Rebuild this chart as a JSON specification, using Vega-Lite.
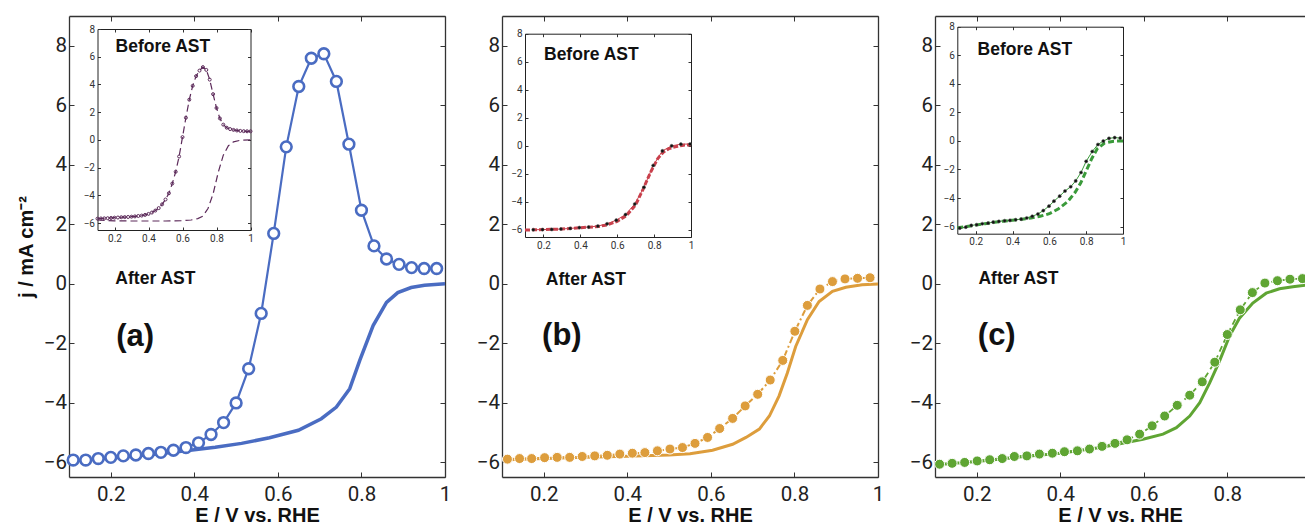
{
"$schema": "https://vega.github.io/schema/vega-lite/v6.json",
"padding": {"left": 16, "top": 15, "right": 0, "bottom": 0},
"background": "white",
"bounds": "flush",
"spacing": 57,
"config": {
  "view": {"stroke": null},
  "axis": {"grid": false, "labelFont": "Roboto", "labelColor": "#222", "domainColor": "#333", "tickColor": "#333", "titleFont": "Liberation Sans", "titleFontWeight": "bold", "titleColor": "#111", "titleFontSize": 20, "labelFlush": false, "labelOverlap": false}
},
"datasets": {
  "a_line": [{"E":0.11,"j":-5.95},{"E":0.2,"j":-5.86},{"E":0.3,"j":-5.74},{"E":0.39,"j":-5.6},{"E":0.45,"j":-5.5},{"E":0.513,"j":-5.37},{"E":0.58,"j":-5.18},{"E":0.649,"j":-4.93},{"E":0.704,"j":-4.54},{"E":0.74,"j":-4.15},{"E":0.772,"j":-3.53},{"E":0.796,"j":-2.58},{"E":0.828,"j":-1.41},{"E":0.86,"j":-0.63},{"E":0.887,"j":-0.3},{"E":0.919,"j":-0.13},{"E":0.951,"j":-0.05},{"E":1.0,"j":0.0}],
  "a_pts": [{"E":0.11,"j":-5.93},{"E":0.14,"j":-5.93},{"E":0.17,"j":-5.88},{"E":0.2,"j":-5.84},{"E":0.23,"j":-5.79},{"E":0.26,"j":-5.76},{"E":0.29,"j":-5.71},{"E":0.32,"j":-5.67},{"E":0.35,"j":-5.6},{"E":0.38,"j":-5.51},{"E":0.41,"j":-5.35},{"E":0.44,"j":-5.07},{"E":0.47,"j":-4.67},{"E":0.5,"j":-4.01},{"E":0.53,"j":-2.86},{"E":0.56,"j":-1.0},{"E":0.59,"j":1.69},{"E":0.62,"j":4.6},{"E":0.65,"j":6.63},{"E":0.68,"j":7.58},{"E":0.71,"j":7.73},{"E":0.74,"j":6.8},{"E":0.77,"j":4.69},{"E":0.8,"j":2.47},{"E":0.83,"j":1.27},{"E":0.86,"j":0.83},{"E":0.89,"j":0.65},{"E":0.92,"j":0.54},{"E":0.95,"j":0.51},{"E":0.98,"j":0.51}],
  "a_in_up": [{"E":0.1,"j":-5.68},{"E":0.12,"j":-5.67},{"E":0.14,"j":-5.66},{"E":0.16,"j":-5.65},{"E":0.18,"j":-5.63},{"E":0.2,"j":-5.61},{"E":0.22,"j":-5.6},{"E":0.24,"j":-5.58},{"E":0.26,"j":-5.57},{"E":0.28,"j":-5.56},{"E":0.3,"j":-5.54},{"E":0.32,"j":-5.52},{"E":0.34,"j":-5.49},{"E":0.36,"j":-5.46},{"E":0.38,"j":-5.41},{"E":0.4,"j":-5.34},{"E":0.42,"j":-5.24},{"E":0.44,"j":-5.1},{"E":0.46,"j":-4.92},{"E":0.48,"j":-4.65},{"E":0.5,"j":-4.3},{"E":0.52,"j":-3.85},{"E":0.54,"j":-3.15},{"E":0.56,"j":-2.3},{"E":0.58,"j":-1.2},{"E":0.6,"j":0.2},{"E":0.62,"j":1.6},{"E":0.64,"j":2.9},{"E":0.66,"j":3.9},{"E":0.68,"j":4.6},{"E":0.7,"j":5.0},{"E":0.72,"j":5.25},{"E":0.74,"j":5.05},{"E":0.76,"j":4.35},{"E":0.78,"j":3.3},{"E":0.8,"j":2.3},{"E":0.82,"j":1.55},{"E":0.84,"j":1.1},{"E":0.86,"j":0.88},{"E":0.88,"j":0.78},{"E":0.9,"j":0.72},{"E":0.92,"j":0.68},{"E":0.94,"j":0.65},{"E":0.96,"j":0.63},{"E":0.98,"j":0.62},{"E":1.0,"j":0.62}],
  "a_in_low": [{"E":0.1,"j":-5.78},{"E":0.15,"j":-5.82},{"E":0.2,"j":-5.84},{"E":0.3,"j":-5.85},{"E":0.4,"j":-5.85},{"E":0.5,"j":-5.85},{"E":0.6,"j":-5.83},{"E":0.65,"j":-5.78},{"E":0.69,"j":-5.68},{"E":0.72,"j":-5.5},{"E":0.75,"j":-4.95},{"E":0.78,"j":-3.9},{"E":0.81,"j":-2.35},{"E":0.84,"j":-1.1},{"E":0.87,"j":-0.42},{"E":0.9,"j":-0.14},{"E":0.94,"j":-0.03},{"E":1.0,"j":0.0}],
  "b_line": [{"E":0.11,"j":-5.92},{"E":0.2,"j":-5.88},{"E":0.3,"j":-5.84},{"E":0.4,"j":-5.8},{"E":0.5,"j":-5.76},{"E":0.55,"j":-5.72},{"E":0.604,"j":-5.6},{"E":0.652,"j":-5.4},{"E":0.684,"j":-5.17},{"E":0.716,"j":-4.89},{"E":0.74,"j":-4.45},{"E":0.763,"j":-3.78},{"E":0.783,"j":-3.0},{"E":0.803,"j":-2.11},{"E":0.831,"j":-1.21},{"E":0.859,"j":-0.6},{"E":0.891,"j":-0.26},{"E":0.923,"j":-0.12},{"E":0.962,"j":-0.04},{"E":1.0,"j":-0.01}],
  "b_pts": [{"E":0.113,"j":-5.9},{"E":0.142,"j":-5.88},{"E":0.171,"j":-5.88},{"E":0.202,"j":-5.85},{"E":0.232,"j":-5.84},{"E":0.262,"j":-5.84},{"E":0.292,"j":-5.81},{"E":0.322,"j":-5.79},{"E":0.352,"j":-5.77},{"E":0.382,"j":-5.73},{"E":0.412,"j":-5.7},{"E":0.442,"j":-5.68},{"E":0.472,"j":-5.62},{"E":0.502,"j":-5.56},{"E":0.532,"j":-5.51},{"E":0.562,"j":-5.37},{"E":0.592,"j":-5.17},{"E":0.621,"j":-4.87},{"E":0.652,"j":-4.53},{"E":0.682,"j":-4.11},{"E":0.712,"j":-3.72},{"E":0.742,"j":-3.24},{"E":0.772,"j":-2.58},{"E":0.801,"j":-1.6},{"E":0.831,"j":-0.73},{"E":0.861,"j":-0.18},{"E":0.891,"j":0.07},{"E":0.921,"j":0.16},{"E":0.951,"j":0.18},{"E":0.981,"j":0.2}],
  "b_in_dash": [{"E":0.1,"j":-6.0},{"E":0.2,"j":-5.97},{"E":0.3,"j":-5.93},{"E":0.4,"j":-5.84},{"E":0.5,"j":-5.75},{"E":0.55,"j":-5.62},{"E":0.6,"j":-5.38},{"E":0.65,"j":-4.98},{"E":0.7,"j":-4.2},{"E":0.74,"j":-3.1},{"E":0.78,"j":-1.9},{"E":0.82,"j":-0.9},{"E":0.85,"j":-0.45},{"E":0.88,"j":-0.2},{"E":0.92,"j":-0.05},{"E":0.96,"j":0.05},{"E":1.0,"j":0.08}],
  "b_in_pts": [{"E":0.145,"j":-5.98},{"E":0.195,"j":-5.97},{"E":0.245,"j":-5.96},{"E":0.295,"j":-5.93},{"E":0.345,"j":-5.89},{"E":0.395,"j":-5.83},{"E":0.445,"j":-5.79},{"E":0.495,"j":-5.72},{"E":0.545,"j":-5.56},{"E":0.595,"j":-5.3},{"E":0.645,"j":-4.9},{"E":0.695,"j":-4.15},{"E":0.745,"j":-2.95},{"E":0.795,"j":-1.4},{"E":0.845,"j":-0.36},{"E":0.895,"j":0.0},{"E":0.945,"j":0.12},{"E":0.995,"j":0.13}],
  "c_line": [{"E":0.11,"j":-6.08},{"E":0.2,"j":-5.98},{"E":0.3,"j":-5.83},{"E":0.4,"j":-5.7},{"E":0.5,"j":-5.5},{"E":0.558,"j":-5.34},{"E":0.598,"j":-5.23},{"E":0.646,"j":-5.06},{"E":0.678,"j":-4.84},{"E":0.71,"j":-4.45},{"E":0.734,"j":-4.0},{"E":0.758,"j":-3.33},{"E":0.781,"j":-2.61},{"E":0.805,"j":-1.77},{"E":0.829,"j":-1.16},{"E":0.861,"j":-0.65},{"E":0.893,"j":-0.32},{"E":0.925,"j":-0.17},{"E":0.957,"j":-0.1},{"E":0.987,"j":-0.05}],
  "c_pts": [{"E":0.111,"j":-6.07},{"E":0.141,"j":-6.04},{"E":0.171,"j":-6.01},{"E":0.201,"j":-5.96},{"E":0.231,"j":-5.92},{"E":0.261,"j":-5.88},{"E":0.29,"j":-5.81},{"E":0.32,"j":-5.79},{"E":0.35,"j":-5.73},{"E":0.381,"j":-5.7},{"E":0.41,"j":-5.65},{"E":0.441,"j":-5.62},{"E":0.47,"j":-5.56},{"E":0.5,"j":-5.47},{"E":0.531,"j":-5.37},{"E":0.56,"j":-5.25},{"E":0.59,"j":-5.06},{"E":0.62,"j":-4.78},{"E":0.65,"j":-4.45},{"E":0.68,"j":-4.09},{"E":0.71,"j":-3.75},{"E":0.74,"j":-3.3},{"E":0.77,"j":-2.64},{"E":0.8,"j":-1.71},{"E":0.831,"j":-0.88},{"E":0.86,"j":-0.3},{"E":0.89,"j":0.02},{"E":0.92,"j":0.1},{"E":0.95,"j":0.15},{"E":0.98,"j":0.17}],
  "c_in_dash": [{"E":0.1,"j":-6.08},{"E":0.15,"j":-6.0},{"E":0.2,"j":-5.9},{"E":0.25,"j":-5.8},{"E":0.3,"j":-5.7},{"E":0.35,"j":-5.62},{"E":0.4,"j":-5.55},{"E":0.45,"j":-5.48},{"E":0.5,"j":-5.4},{"E":0.55,"j":-5.28},{"E":0.6,"j":-5.1},{"E":0.65,"j":-4.75},{"E":0.7,"j":-4.25},{"E":0.74,"j":-3.6},{"E":0.77,"j":-2.95},{"E":0.8,"j":-2.1},{"E":0.83,"j":-1.25},{"E":0.86,"j":-0.55},{"E":0.9,"j":-0.15},{"E":0.95,"j":-0.02},{"E":1.0,"j":0.0}],
  "c_in_pts": [{"E":0.113,"j":-6.11},{"E":0.146,"j":-6.04},{"E":0.176,"j":-5.92},{"E":0.205,"j":-5.87},{"E":0.236,"j":-5.8},{"E":0.267,"j":-5.76},{"E":0.295,"j":-5.69},{"E":0.326,"j":-5.64},{"E":0.357,"j":-5.59},{"E":0.386,"j":-5.57},{"E":0.417,"j":-5.52},{"E":0.447,"j":-5.48},{"E":0.477,"j":-5.4},{"E":0.507,"j":-5.28},{"E":0.538,"j":-5.12},{"E":0.567,"j":-4.88},{"E":0.598,"j":-4.57},{"E":0.625,"j":-4.22},{"E":0.656,"j":-3.87},{"E":0.685,"j":-3.51},{"E":0.716,"j":-3.21},{"E":0.743,"j":-2.8},{"E":0.772,"j":-2.21},{"E":0.8,"j":-1.43},{"E":0.833,"j":-0.74},{"E":0.864,"j":-0.25},{"E":0.893,"j":-0.01},{"E":0.924,"j":0.18},{"E":0.955,"j":0.23},{"E":0.985,"j":0.2}]
},
"hconcat": [
 {
  "width": 376, "height": 461,
  "layer": [
   {
    "layer": [
     {"data": {"name": "a_line"}, "mark": {"type": "line", "color": "#4a6cc2", "strokeWidth": 3.5},
      "encoding": {
       "x": {"field": "E", "type": "quantitative", "scale": {"domain": [0.1, 1], "nice": false, "zero": false},
             "axis": {"orient": "bottom", "values": [0.2,0.4,0.6,0.8,1], "format": "~g", "tickSize": -5, "labelPadding": 12, "labelFontSize": 20.5, "domainWidth": 1.3, "title": "E / V vs. RHE", "titlePadding": 1}},
       "y": {"field": "j", "type": "quantitative", "scale": {"domain": [-6.5, 9], "nice": false, "zero": false},
             "axis": {"orient": "left", "values": [-6,-4,-2,0,2,4,6,8], "tickSize": -5, "labelPadding": 7.5, "labelFontSize": 20.5, "domainWidth": 1.3, "title": "j / mA cm⁻²", "titlePadding": 7}}}},
     {"data": {"name": "a_pts"}, "mark": {"type": "line", "color": "#4a6cc2", "strokeWidth": 2.2},
      "encoding": {
       "x": {"field": "E", "type": "quantitative", "axis": {"orient": "top", "values": [0.2,0.4,0.6,0.8,1], "tickSize": -5, "labels": false, "domainWidth": 1.3, "title": null}},
       "y": {"field": "j", "type": "quantitative", "axis": {"orient": "right", "values": [-6,-4,-2,0,2,4,6,8], "tickSize": -5, "labels": false, "domainWidth": 1.3, "title": null}}}},
     {"data": {"name": "a_pts"}, "mark": {"type": "point", "shape": "circle", "size": 115, "filled": true, "fill": "white", "stroke": "#4a6cc2", "strokeWidth": 2.6, "opacity": 1},
      "encoding": {"x": {"field": "E", "type": "quantitative", "axis": null}, "y": {"field": "j", "type": "quantitative", "axis": null}}},
     {"data": {"values": [{"label": "After AST"}]}, "mark": {"type": "text", "align": "left", "baseline": "middle", "font": "Liberation Sans", "fontWeight": "bold", "fontSize": 17.5, "color": "#111"},
      "encoding": {"x": {"datum": 0.211, "type": "quantitative", "axis": null}, "y": {"datum": 0.16, "type": "quantitative", "axis": null}, "text": {"field": "label"}}},
     {"data": {"values": [{"label": "(a)"}]}, "mark": {"type": "text", "align": "left", "baseline": "middle", "font": "Liberation Sans", "fontWeight": "bold", "fontSize": 31, "color": "#111"},
      "encoding": {"x": {"datum": 0.213, "type": "quantitative", "axis": null}, "y": {"datum": -1.78, "type": "quantitative", "axis": null}, "text": {"field": "label"}}}
    ],
    "resolve": {"axis": {"x": "independent", "y": "independent"}}
   },
   {
    "layer": [
     {"data": {"name": "a_in_low"}, "mark": {"type": "line", "color": "#5c2a5a", "strokeWidth": 1.2, "strokeDash": [7, 4]},
      "encoding": {
       "x": {"field": "E", "type": "quantitative", "scale": {"domain": [0.1, 1], "range": [28.5, 181.5], "nice": false, "zero": false},
             "axis": {"orient": "bottom", "offset": -247, "values": [0.2,0.4,0.6,0.8,1], "format": "~g", "tickSize": -3, "labelPadding": 6, "labelFontSize": 10, "labelColor": "#333", "domainColor": "#222", "title": null}},
       "y": {"field": "j", "type": "quantitative", "scale": {"domain": [-6.5, 8], "range": [214, 13], "nice": false, "zero": false},
             "axis": {"orient": "left", "offset": -28.5, "values": [-6,-4,-2,0,2,4,6,8], "tickSize": -3, "labelPadding": 6, "labelFontSize": 10, "labelColor": "#333", "domainColor": "#222", "title": null}}}},
     {"data": {"name": "a_in_up"}, "mark": {"type": "line", "color": "#5c2a5a", "strokeWidth": 1.2, "strokeDash": [7, 4]},
      "encoding": {
       "x": {"field": "E", "type": "quantitative", "axis": {"orient": "top", "offset": -13, "values": [0.2,0.4,0.6,0.8,1], "tickSize": -3, "labels": false, "domainColor": "#222", "title": null}},
       "y": {"field": "j", "type": "quantitative", "axis": {"orient": "right", "offset": -194.5, "values": [-6,-4,-2,0,2,4,6,8], "tickSize": -3, "labels": false, "domainColor": "#222", "title": null}}}},
     {"data": {"name": "a_in_up"}, "mark": {"type": "point", "shape": "circle", "size": 9, "filled": false, "stroke": "#5c2a5a", "strokeWidth": 1, "opacity": 1},
      "encoding": {"x": {"field": "E", "type": "quantitative", "axis": null}, "y": {"field": "j", "type": "quantitative", "axis": null}}},
     {"data": {"values": [{"label": "Before AST"}]}, "mark": {"type": "text", "align": "left", "baseline": "middle", "font": "Liberation Sans", "fontWeight": "bold", "fontSize": 17.5, "color": "#111"},
      "encoding": {"x": {"datum": 0.206, "type": "quantitative", "axis": null}, "y": {"datum": 6.7, "type": "quantitative", "axis": null}, "text": {"field": "label"}}}
    ],
    "resolve": {"axis": {"x": "independent", "y": "independent"}}
   }
  ],
  "resolve": {"scale": {"x": "independent", "y": "independent"}, "axis": {"x": "independent", "y": "independent"}}
 },
 {
  "width": 376, "height": 461,
  "layer": [
   {
    "layer": [
     {"data": {"name": "b_line"}, "mark": {"type": "line", "color": "#dd9d3c", "strokeWidth": 3},
      "encoding": {
       "x": {"field": "E", "type": "quantitative", "scale": {"domain": [0.1, 1], "nice": false, "zero": false},
             "axis": {"orient": "bottom", "values": [0.2,0.4,0.6,0.8,1], "format": "~g", "tickSize": -5, "labelPadding": 12, "labelFontSize": 20.5, "domainWidth": 1.3, "title": "E / V vs. RHE", "titlePadding": 1}},
       "y": {"field": "j", "type": "quantitative", "scale": {"domain": [-6.5, 9], "nice": false, "zero": false},
             "axis": {"orient": "left", "values": [-6,-4,-2,0,2,4,6,8], "tickSize": -5, "labelPadding": 7.5, "labelFontSize": 20.5, "domainWidth": 1.3, "title": null}}}},
     {"data": {"name": "b_pts"}, "mark": {"type": "line", "color": "#dd9d3c", "strokeWidth": 2, "strokeDash": [7, 3, 2, 3]},
      "encoding": {
       "x": {"field": "E", "type": "quantitative", "axis": {"orient": "top", "values": [0.2,0.4,0.6,0.8,1], "tickSize": -5, "labels": false, "domainWidth": 1.3, "title": null}},
       "y": {"field": "j", "type": "quantitative", "axis": {"orient": "right", "values": [-6,-4,-2,0,2,4,6,8], "tickSize": -5, "labels": false, "domainWidth": 1.3, "title": null}}}},
     {"data": {"name": "b_pts"}, "mark": {"type": "point", "shape": "circle", "size": 100, "filled": true, "fill": "#dd9d3c", "stroke": "white", "strokeWidth": 1, "opacity": 1},
      "encoding": {"x": {"field": "E", "type": "quantitative", "axis": null}, "y": {"field": "j", "type": "quantitative", "axis": null}}},
     {"data": {"values": [{"label": "After AST"}]}, "mark": {"type": "text", "align": "left", "baseline": "middle", "font": "Liberation Sans", "fontWeight": "bold", "fontSize": 17.5, "color": "#111"},
      "encoding": {"x": {"datum": 0.205, "type": "quantitative", "axis": null}, "y": {"datum": 0.13, "type": "quantitative", "axis": null}, "text": {"field": "label"}}},
     {"data": {"values": [{"label": "(b)"}]}, "mark": {"type": "text", "align": "left", "baseline": "middle", "font": "Liberation Sans", "fontWeight": "bold", "fontSize": 31, "color": "#111"},
      "encoding": {"x": {"datum": 0.196, "type": "quantitative", "axis": null}, "y": {"datum": -1.77, "type": "quantitative", "axis": null}, "text": {"field": "label"}}}
    ],
    "resolve": {"axis": {"x": "independent", "y": "independent"}}
   },
   {
    "layer": [
     {"data": {"name": "b_in_dash"}, "mark": {"type": "line", "color": "#c9404c", "strokeWidth": 3, "strokeDash": [5, 2]},
      "encoding": {
       "x": {"field": "E", "type": "quantitative", "scale": {"domain": [0.1, 1], "range": [23, 189], "nice": false, "zero": false},
             "axis": {"orient": "bottom", "offset": -240, "values": [0.2,0.4,0.6,0.8,1], "format": "~g", "tickSize": -3, "labelPadding": 6, "labelFontSize": 10, "labelColor": "#333", "domainColor": "#222", "title": null}},
       "y": {"field": "j", "type": "quantitative", "scale": {"domain": [-6.5, 8], "range": [221, 17.7], "nice": false, "zero": false},
             "axis": {"orient": "left", "offset": -23, "values": [-6,-4,-2,0,2,4,6,8], "tickSize": -3, "labelPadding": 6, "labelFontSize": 10, "labelColor": "#333", "domainColor": "#222", "title": null}}}},
     {"data": {"name": "b_in_pts"}, "mark": {"type": "line", "color": "#c9404c", "strokeWidth": 1},
      "encoding": {
       "x": {"field": "E", "type": "quantitative", "axis": {"orient": "top", "offset": -17.7, "values": [0.2,0.4,0.6,0.8,1], "tickSize": -3, "labels": false, "domainColor": "#222", "title": null}},
       "y": {"field": "j", "type": "quantitative", "axis": {"orient": "right", "offset": -187, "values": [-6,-4,-2,0,2,4,6,8], "tickSize": -3, "labels": false, "domainColor": "#222", "title": null}}}},
     {"data": {"name": "b_in_pts"}, "mark": {"type": "point", "shape": "circle", "size": 10, "filled": true, "fill": "#111", "stroke": "#555", "strokeWidth": 0.5, "opacity": 1},
      "encoding": {"x": {"field": "E", "type": "quantitative", "axis": null}, "y": {"field": "j", "type": "quantitative", "axis": null}}},
     {"data": {"values": [{"label": "Before AST"}]}, "mark": {"type": "text", "align": "left", "baseline": "middle", "font": "Liberation Sans", "fontWeight": "bold", "fontSize": 17.5, "color": "#111"},
      "encoding": {"x": {"datum": 0.203, "type": "quantitative", "axis": null}, "y": {"datum": 6.49, "type": "quantitative", "axis": null}, "text": {"field": "label"}}}
    ],
    "resolve": {"axis": {"x": "independent", "y": "independent"}}
   }
  ],
  "resolve": {"scale": {"x": "independent", "y": "independent"}, "axis": {"x": "independent", "y": "independent"}}
 },
 {
  "width": 370, "height": 461,
  "layer": [
   {
    "layer": [
     {"data": {"name": "c_line"}, "mark": {"type": "line", "color": "#5fa533", "strokeWidth": 3, "clip": true},
      "encoding": {
       "x": {"field": "E", "type": "quantitative", "scale": {"domain": [0.1, 0.986], "nice": false, "zero": false},
             "axis": {"orient": "bottom", "values": [0.2,0.4,0.6,0.8], "format": "~g", "tickSize": -5, "labelPadding": 12, "labelFontSize": 20.5, "domainWidth": 1.3, "title": "E / V vs. RHE", "titlePadding": 1}},
       "y": {"field": "j", "type": "quantitative", "scale": {"domain": [-6.5, 9], "nice": false, "zero": false},
             "axis": {"orient": "left", "values": [-6,-4,-2,0,2,4,6,8], "tickSize": -5, "labelPadding": 7.5, "labelFontSize": 20.5, "domainWidth": 1.3, "title": null}}}},
     {"data": {"name": "c_pts"}, "mark": {"type": "line", "color": "#5fa533", "strokeWidth": 1.8, "strokeDash": [6, 4], "clip": true},
      "encoding": {
       "x": {"field": "E", "type": "quantitative", "axis": {"orient": "top", "values": [0.2,0.4,0.6,0.8], "tickSize": -5, "labels": false, "domainWidth": 1.3, "title": null}},
       "y": {"field": "j", "type": "quantitative", "axis": null}}},
     {"data": {"name": "c_pts"}, "mark": {"type": "point", "shape": "circle", "size": 100, "filled": true, "fill": "#5fa533", "stroke": "white", "strokeWidth": 1, "opacity": 1, "clip": true},
      "encoding": {"x": {"field": "E", "type": "quantitative", "axis": null}, "y": {"field": "j", "type": "quantitative", "axis": null}}},
     {"data": {"values": [{"label": "After AST"}]}, "mark": {"type": "text", "align": "left", "baseline": "middle", "font": "Liberation Sans", "fontWeight": "bold", "fontSize": 17.5, "color": "#111"},
      "encoding": {"x": {"datum": 0.204, "type": "quantitative", "axis": null}, "y": {"datum": 0.15, "type": "quantitative", "axis": null}, "text": {"field": "label"}}},
     {"data": {"values": [{"label": "(c)"}]}, "mark": {"type": "text", "align": "left", "baseline": "middle", "font": "Liberation Sans", "fontWeight": "bold", "fontSize": 31, "color": "#111"},
      "encoding": {"x": {"datum": 0.2025, "type": "quantitative", "axis": null}, "y": {"datum": -1.77, "type": "quantitative", "axis": null}, "text": {"field": "label"}}}
    ],
    "resolve": {"axis": {"x": "independent", "y": "independent"}}
   },
   {
    "layer": [
     {"data": {"name": "c_in_dash"}, "mark": {"type": "line", "color": "#3a9a3a", "strokeWidth": 3, "strokeDash": [6, 3]},
      "encoding": {
       "x": {"field": "E", "type": "quantitative", "scale": {"domain": [0.1, 1], "range": [22.3, 188], "nice": false, "zero": false},
             "axis": {"orient": "bottom", "offset": -243.3, "values": [0.2,0.4,0.6,0.8,1], "format": "~g", "tickSize": -3, "labelPadding": 6, "labelFontSize": 10, "labelColor": "#333", "domainColor": "#222", "title": null}},
       "y": {"field": "j", "type": "quantitative", "scale": {"domain": [-6.5, 8], "range": [217.7, 10.7], "nice": false, "zero": false},
             "axis": {"orient": "left", "offset": -22.3, "values": [-6,-4,-2,0,2,4,6,8], "tickSize": -3, "labelPadding": 6, "labelFontSize": 10, "labelColor": "#333", "domainColor": "#222", "title": null}}}},
     {"data": {"name": "c_in_pts"}, "mark": {"type": "line", "color": "#3a9a3a", "strokeWidth": 1},
      "encoding": {
       "x": {"field": "E", "type": "quantitative", "axis": {"orient": "top", "offset": -10.7, "values": [0.2,0.4,0.6,0.8,1], "tickSize": -3, "labels": false, "domainColor": "#222", "title": null}},
       "y": {"field": "j", "type": "quantitative", "axis": {"orient": "right", "offset": -182, "values": [-6,-4,-2,0,2,4,6,8], "tickSize": -3, "labels": false, "domainColor": "#222", "title": null}}}},
     {"data": {"name": "c_in_pts"}, "mark": {"type": "point", "shape": "circle", "size": 10, "filled": true, "fill": "#111", "stroke": "#555", "strokeWidth": 0.5, "opacity": 1},
      "encoding": {"x": {"field": "E", "type": "quantitative", "axis": null}, "y": {"field": "j", "type": "quantitative", "axis": null}}},
     {"data": {"values": [{"label": "Before AST"}]}, "mark": {"type": "text", "align": "left", "baseline": "middle", "font": "Liberation Sans", "fontWeight": "bold", "fontSize": 17.5, "color": "#111"},
      "encoding": {"x": {"datum": 0.21, "type": "quantitative", "axis": null}, "y": {"datum": 6.36, "type": "quantitative", "axis": null}, "text": {"field": "label"}}}
    ],
    "resolve": {"axis": {"x": "independent", "y": "independent"}}
   }
  ],
  "resolve": {"scale": {"x": "independent", "y": "independent"}, "axis": {"x": "independent", "y": "independent"}}
 }
]
}
